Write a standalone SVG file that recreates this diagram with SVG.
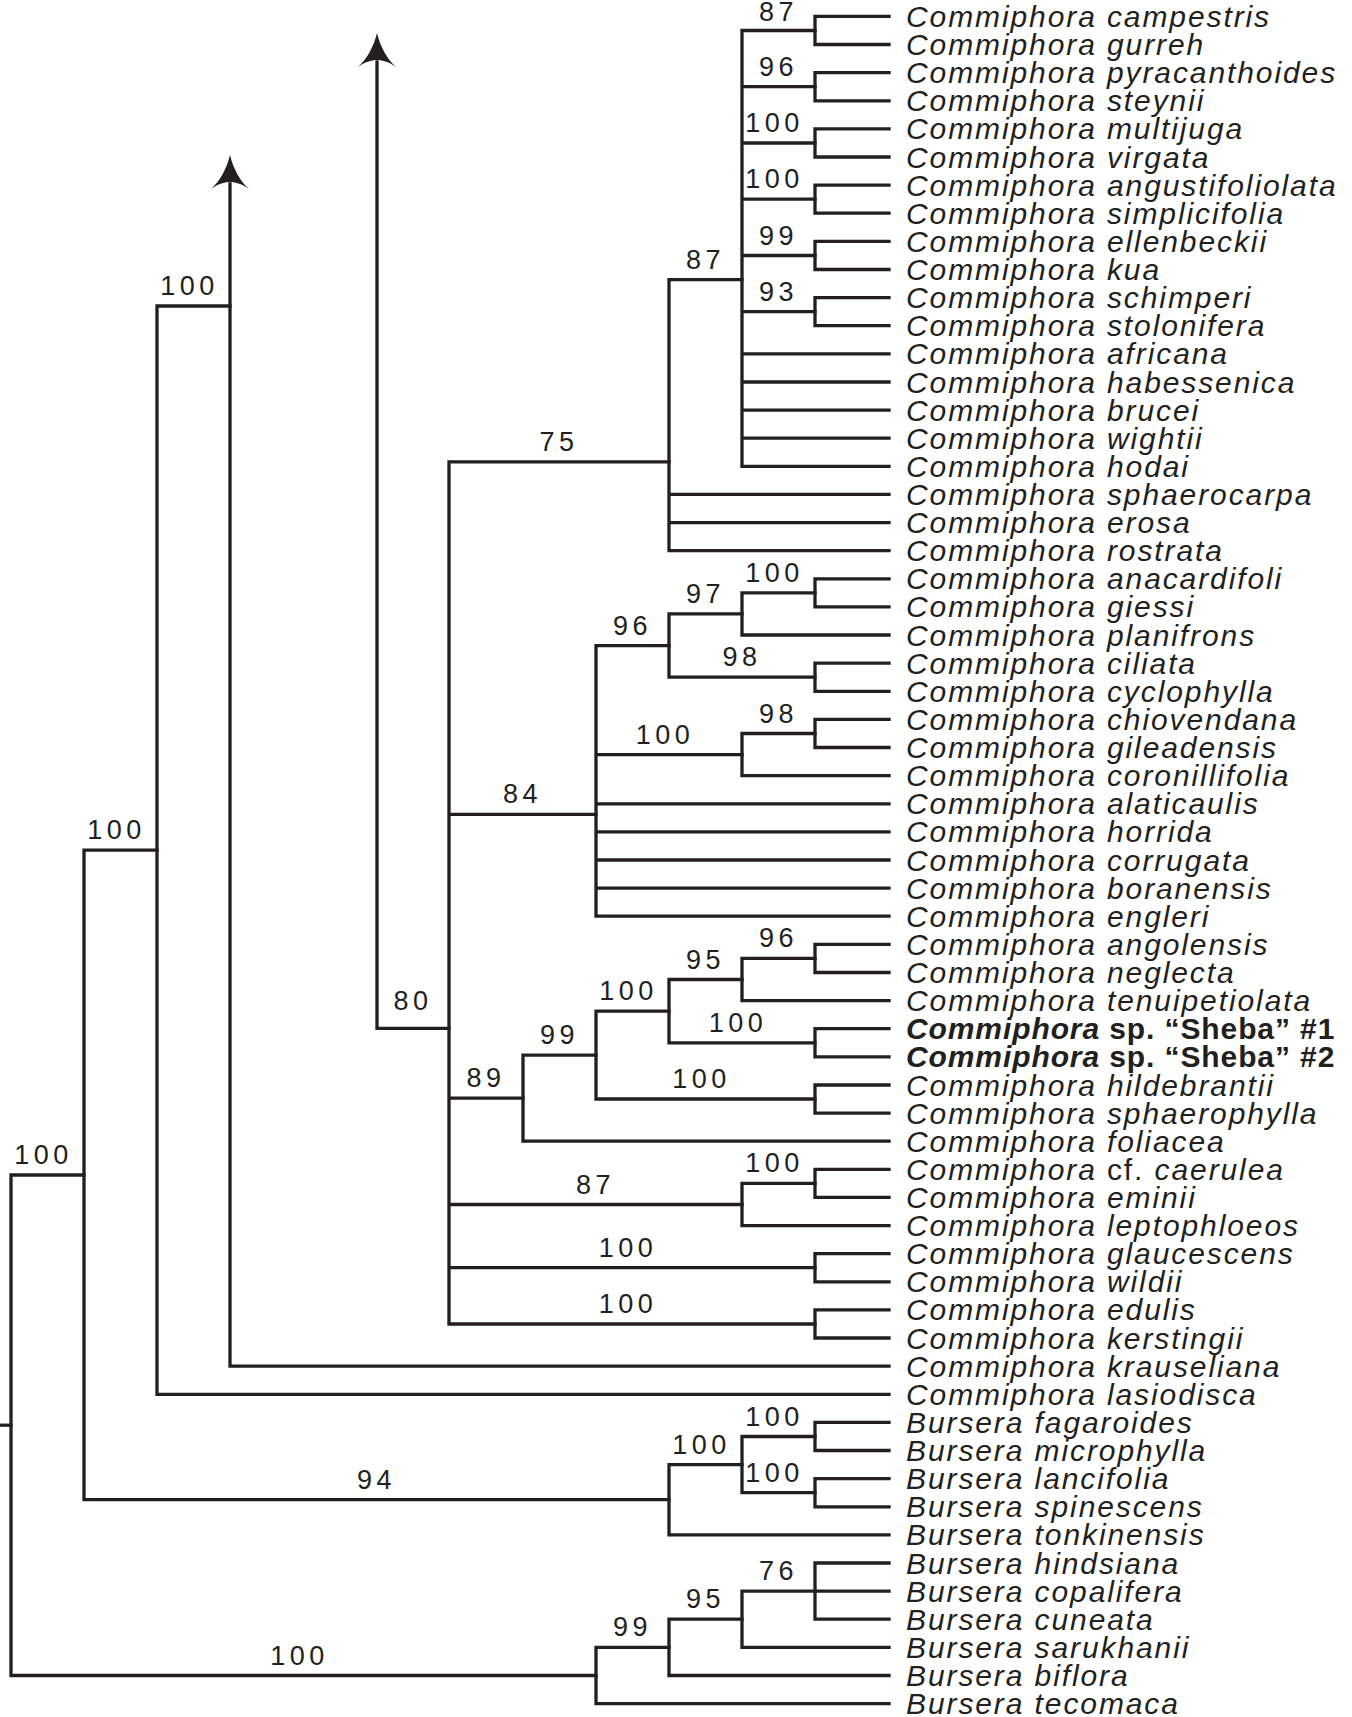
<svg xmlns="http://www.w3.org/2000/svg" width="1352" height="1717" viewBox="0 0 1352 1717">
<style>
.br{fill:none;stroke:#231f20;stroke-width:3.3;stroke-linecap:square;stroke-linejoin:miter}
.ah{fill:#231f20;stroke:none}
.lf{font-family:"Liberation Sans",Arial,sans-serif;font-size:30px;font-style:italic;letter-spacing:1.9px;fill:#231f20}
.lf tspan.up{font-style:normal}
.sb{font-weight:bold;letter-spacing:0.9px}
.bs{font-family:"Liberation Sans",Arial,sans-serif;font-size:27px;letter-spacing:4.5px;text-anchor:middle;fill:#231f20}
</style>
<defs>
<path id="head" d="M0,0 C3,13 10,26 19,34 C12,29 6,27 0,27 C-6,27 -12,29 -19,34 C-10,26 -3,13 0,0 Z"/>
</defs>
<rect width="1352" height="1717" fill="#ffffff"/>
<g id="connectors">
<path class="br" d="M0,1425.2 H11"/>
<path class="br" d="M84,1175 H11 V1675.5 H596"/>
<path class="br" d="M157,850.2 H84 V1499.7 H669"/>
<path class="br" d="M230,306 H157 V1394.3 H889"/>
<path class="br" d="M230,184 V1366.2 H889"/>
<path class="br" d="M377,62 V1028.4 H449"/>
<use href="#head" class="ah" x="230" y="155"/>
<use href="#head" class="ah" x="377" y="33"/>
<path class="br" d="M669,461.8 H449 V1324 H815 M449,814.3 H596 M449,1098.1 H523 M449,1204.5 H742 M449,1267.7 H815"/>
<path class="br" d="M742,279.6 H669 V550.7 H889 M669,494.4 H889 M669,522.6 H889"/>
<path class="br" d="M815,30.5 H742 V466.3 H889 M742,86.7 H815 M742,143 H815 M742,199.2 H815 M742,255.5 H815 M742,311.7 H815 M742,353.8 H889 M742,382 H889 M742,410.1 H889 M742,438.2 H889"/>
<path class="br" d="M889,16.4 H815 V44.5 H889 M889,72.6 H815 V100.8 H889 M889,128.9 H815 V157 H889 M889,185.1 H815 V213.2 H889 M889,241.4 H815 V269.5 H889 M889,297.6 H815 V325.7 H889"/>
<path class="br" d="M669,645.6 H596 V916.2 H889 M596,754.6 H742 M596,803.8 H889 M596,831.9 H889 M596,860 H889 M596,888.1 H889"/>
<path class="br" d="M742,613.9 H669 V677.2 H815"/>
<path class="br" d="M815,592.9 H742 V635 H889"/>
<path class="br" d="M815,733.5 H742 V775.6 H889"/>
<path class="br" d="M889,578.8 H815 V606.9 H889 M889,663.2 H815 V691.3 H889 M889,719.4 H815 V747.5 H889"/>
<path class="br" d="M596,1055.1 H523 V1141.2 H889"/>
<path class="br" d="M669,1011.2 H596 V1099 H815"/>
<path class="br" d="M742,979.5 H669 V1042.8 H815"/>
<path class="br" d="M815,958.4 H742 V1000.6 H889"/>
<path class="br" d="M889,944.4 H815 V972.5 H889 M889,1028.7 H815 V1056.8 H889 M889,1085 H815 V1113.1 H889"/>
<path class="br" d="M815,1183.4 H742 V1225.6 H889"/>
<path class="br" d="M889,1169.3 H815 V1197.4 H889 M889,1253.7 H815 V1281.8 H889 M889,1309.9 H815 V1338 H889"/>
<path class="br" d="M742,1464.6 H669 V1534.9 H889"/>
<path class="br" d="M815,1436.5 H742 V1492.7 H815"/>
<path class="br" d="M889,1422.4 H815 V1450.5 H889 M889,1478.6 H815 V1506.8 H889"/>
<path class="br" d="M669,1647.4 H596 V1703.6 H889"/>
<path class="br" d="M742,1619.2 H669 V1675.5 H889"/>
<path class="br" d="M815,1591.1 H742 V1647.4 H889"/>
<path class="br" d="M889,1563 H815 V1619.2 H889 M815,1591.1 H889"/>
</g>
<g id="support-values">
<g id="n-root-a"><text class="bs" x="43.5" y="1164">100</text></g>
<g id="n-bursera-b"><text class="bs" x="299.5" y="1664.5">100</text></g>
<g id="n-c2"><text class="bs" x="116.5" y="839">100</text></g>
<g id="n-bursera-a"><text class="bs" x="376.5" y="1488.7">94</text></g>
<g id="n-c3"><text class="bs" x="189.5" y="295">100</text></g>
<g id="n-80"><text class="bs" x="413" y="1010">80</text></g>
<g id="n-75"><text class="bs" x="559" y="450.8">75</text></g>
<g id="n-84"><text class="bs" x="522.5" y="803.3">84</text></g>
<g id="n-89"><text class="bs" x="486" y="1087">89</text></g>
<g id="n-87b"><text class="bs" x="595.5" y="1193.5">87</text></g>
<g id="n-glauc"><text class="bs" x="628" y="1256.7">100</text></g>
<g id="n-edulis"><text class="bs" x="628" y="1313">100</text></g>
<g id="n-87a"><text class="bs" x="705.5" y="268.6">87</text></g>
<g id="n-p1"><text class="bs" x="778.5" y="20.5">87</text></g>
<g id="n-p2"><text class="bs" x="778.5" y="75.7">96</text></g>
<g id="n-p3"><text class="bs" x="774.5" y="132">100</text></g>
<g id="n-p4"><text class="bs" x="774.5" y="188.2">100</text></g>
<g id="n-p5"><text class="bs" x="778.5" y="244.5">99</text></g>
<g id="n-p6"><text class="bs" x="778.5" y="300.7">93</text></g>
<g id="n-96a"><text class="bs" x="632.5" y="634.6">96</text></g>
<g id="n-97"><text class="bs" x="705.5" y="602.9">97</text></g>
<g id="n-anac"><text class="bs" x="774.5" y="581.9">100</text></g>
<g id="n-98a"><text class="bs" x="742" y="666.2">98</text></g>
<g id="n-chiov"><text class="bs" x="665" y="743.6">100</text></g>
<g id="n-98b"><text class="bs" x="778.5" y="722.5">98</text></g>
<g id="n-99a"><text class="bs" x="559.5" y="1044.1">99</text></g>
<g id="n-100s"><text class="bs" x="628.5" y="1000.2">100</text></g>
<g id="n-95a"><text class="bs" x="705.5" y="968.5">95</text></g>
<g id="n-96b"><text class="bs" x="778.5" y="947.4">96</text></g>
<g id="n-sheba"><text class="bs" x="738" y="1031.8">100</text></g>
<g id="n-hild"><text class="bs" x="701.5" y="1088">100</text></g>
<g id="n-caer"><text class="bs" x="774.5" y="1172.4">100</text></g>
<g id="n-bur100"><text class="bs" x="701.5" y="1453.6">100</text></g>
<g id="n-fag"><text class="bs" x="774.5" y="1425.5">100</text></g>
<g id="n-lanc"><text class="bs" x="774.5" y="1481.7">100</text></g>
<g id="n-76"><text class="bs" x="778.5" y="1580.1">76</text></g>
<g id="n-95b"><text class="bs" x="705.5" y="1608.2">95</text></g>
<g id="n-99b"><text class="bs" x="632.5" y="1636.4">99</text></g>
</g>
<g id="leaves">
<g id="t01"><text class="lf" x="906" y="26.9">Commiphora campestris</text></g>
<g id="t02"><text class="lf" x="906" y="55">Commiphora gurreh</text></g>
<g id="t03"><text class="lf" x="906" y="83.1">Commiphora pyracanthoides</text></g>
<g id="t04"><text class="lf" x="906" y="111.3">Commiphora steynii</text></g>
<g id="t05"><text class="lf" x="906" y="139.4">Commiphora multijuga</text></g>
<g id="t06"><text class="lf" x="906" y="167.5">Commiphora virgata</text></g>
<g id="t07"><text class="lf" x="906" y="195.6">Commiphora angustifoliolata</text></g>
<g id="t08"><text class="lf" x="906" y="223.7">Commiphora simplicifolia</text></g>
<g id="t09"><text class="lf" x="906" y="251.9">Commiphora ellenbeckii</text></g>
<g id="t10"><text class="lf" x="906" y="280">Commiphora kua</text></g>
<g id="t11"><text class="lf" x="906" y="308.1">Commiphora schimperi</text></g>
<g id="t12"><text class="lf" x="906" y="336.2">Commiphora stolonifera</text></g>
<g id="t13"><text class="lf" x="906" y="364.3">Commiphora africana</text></g>
<g id="t14"><text class="lf" x="906" y="392.5">Commiphora habessenica</text></g>
<g id="t15"><text class="lf" x="906" y="420.6">Commiphora brucei</text></g>
<g id="t16"><text class="lf" x="906" y="448.7">Commiphora wightii</text></g>
<g id="t17"><text class="lf" x="906" y="476.8">Commiphora hodai</text></g>
<g id="t18"><text class="lf" x="906" y="504.9">Commiphora sphaerocarpa</text></g>
<g id="t19"><text class="lf" x="906" y="533.1">Commiphora erosa</text></g>
<g id="t20"><text class="lf" x="906" y="561.2">Commiphora rostrata</text></g>
<g id="t21"><text class="lf" x="906" y="589.3">Commiphora anacardifoli</text></g>
<g id="t22"><text class="lf" x="906" y="617.4">Commiphora giessi</text></g>
<g id="t23"><text class="lf" x="906" y="645.5">Commiphora planifrons</text></g>
<g id="t24"><text class="lf" x="906" y="673.7">Commiphora ciliata</text></g>
<g id="t25"><text class="lf" x="906" y="701.8">Commiphora cyclophylla</text></g>
<g id="t26"><text class="lf" x="906" y="729.9">Commiphora chiovendana</text></g>
<g id="t27"><text class="lf" x="906" y="758">Commiphora gileadensis</text></g>
<g id="t28"><text class="lf" x="906" y="786.1">Commiphora coronillifolia</text></g>
<g id="t29"><text class="lf" x="906" y="814.3">Commiphora alaticaulis</text></g>
<g id="t30"><text class="lf" x="906" y="842.4">Commiphora horrida</text></g>
<g id="t31"><text class="lf" x="906" y="870.5">Commiphora corrugata</text></g>
<g id="t32"><text class="lf" x="906" y="898.6">Commiphora boranensis</text></g>
<g id="t33"><text class="lf" x="906" y="926.7">Commiphora engleri</text></g>
<g id="t34"><text class="lf" x="906" y="954.9">Commiphora angolensis</text></g>
<g id="t35"><text class="lf" x="906" y="983">Commiphora neglecta</text></g>
<g id="t36"><text class="lf" x="906" y="1011.1">Commiphora tenuipetiolata</text></g>
<g id="t37"><text class="lf sb" x="906" y="1039.2">Commiphora<tspan class="up"> sp. “Sheba” #1</tspan></text></g>
<g id="t38"><text class="lf sb" x="906" y="1067.3">Commiphora<tspan class="up"> sp. “Sheba” #2</tspan></text></g>
<g id="t39"><text class="lf" x="906" y="1095.5">Commiphora hildebrantii</text></g>
<g id="t40"><text class="lf" x="906" y="1123.6">Commiphora sphaerophylla</text></g>
<g id="t41"><text class="lf" x="906" y="1151.7">Commiphora foliacea</text></g>
<g id="t42"><text class="lf" x="906" y="1179.8">Commiphora <tspan class="up">cf.</tspan> caerulea</text></g>
<g id="t43"><text class="lf" x="906" y="1207.9">Commiphora eminii</text></g>
<g id="t44"><text class="lf" x="906" y="1236.1">Commiphora leptophloeos</text></g>
<g id="t45"><text class="lf" x="906" y="1264.2">Commiphora glaucescens</text></g>
<g id="t46"><text class="lf" x="906" y="1292.3">Commiphora wildii</text></g>
<g id="t47"><text class="lf" x="906" y="1320.4">Commiphora edulis</text></g>
<g id="t48"><text class="lf" x="906" y="1348.5">Commiphora kerstingii</text></g>
<g id="t49"><text class="lf" x="906" y="1376.7">Commiphora krauseliana</text></g>
<g id="t50"><text class="lf" x="906" y="1404.8">Commiphora lasiodisca</text></g>
<g id="t51"><text class="lf" x="906" y="1432.9">Bursera fagaroides</text></g>
<g id="t52"><text class="lf" x="906" y="1461">Bursera microphylla</text></g>
<g id="t53"><text class="lf" x="906" y="1489.1">Bursera lancifolia</text></g>
<g id="t54"><text class="lf" x="906" y="1517.3">Bursera spinescens</text></g>
<g id="t55"><text class="lf" x="906" y="1545.4">Bursera tonkinensis</text></g>
<g id="t56"><text class="lf" x="906" y="1573.5">Bursera hindsiana</text></g>
<g id="t57"><text class="lf" x="906" y="1601.6">Bursera copalifera</text></g>
<g id="t58"><text class="lf" x="906" y="1629.7">Bursera cuneata</text></g>
<g id="t59"><text class="lf" x="906" y="1657.9">Bursera sarukhanii</text></g>
<g id="t60"><text class="lf" x="906" y="1686">Bursera biflora</text></g>
<g id="t61"><text class="lf" x="906" y="1714.1">Bursera tecomaca</text></g>
</g>
</svg>
